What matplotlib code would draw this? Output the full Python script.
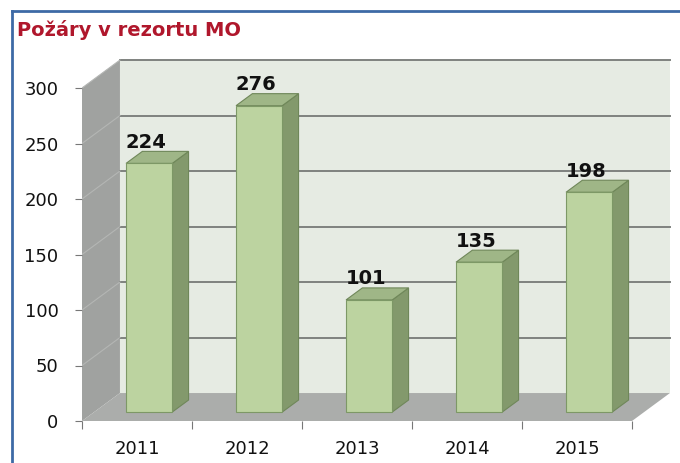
import numpy as np
import matplotlib
matplotlib.use("Agg")
import matplotlib.pyplot as plt
from matplotlib.patches import Polygon
from matplotlib.lines import Line2D

years = ["2011", "2012", "2013", "2014", "2015"]
fires = [224, 276, 101, 135, 198]
yticks = [0, 50, 100, 150, 200, 250, 300]
title = "Požáry v rezortu MO"

# fake 3d depth, in data units (category width = 1)
DX = 0.345
DY = 25.2
F1, F2 = 0.32, 0.75  # front and back of the bars, as fraction of the depth
BW = 0.42

W, H = 680, 463
fig = plt.figure(figsize=(W / 100, H / 100), dpi=100)
fig.patch.set_facecolor("white")

# frame
fig.add_artist(Line2D([12 / W, 1], [1 - 11 / H, 1 - 11 / H], color="#3d6aa6", lw=2))
fig.add_artist(Line2D([12 / W, 12 / W], [0, 1 - 11 / H], color="#3d6aa6", lw=2))
fig.text(17 / W, 1 - 30 / H, title, color="#b0172c", fontsize=14,
         fontweight="bold", va="center", ha="left")

ax = fig.add_axes([82 / W, (H - 421) / H, 594 / W, 372 / H])
ax.set_xlim(-0.5, -0.5 + 594 / 110)
ax.set_ylim(0, 372 / 1.11)
ax.set_facecolor("none")
for s in ax.spines.values():
    s.set_visible(False)

x = np.arange(len(years))
x0, x1 = -0.5, len(years) - 0.5
top = yticks[-1]

# walls and floor
ax.add_patch(Polygon([(x0, 0), (x0, top), (x0 + DX, top + DY), (x0 + DX, DY)],
                     facecolor="#a0a2a0", edgecolor="none", zorder=1))
ax.add_patch(Polygon([(x0 + DX, DY), (x0 + DX, top + DY), (x1 + DX, top + DY), (x1 + DX, DY)],
                     facecolor="#e6ebe3", edgecolor="none", zorder=1))
ax.add_patch(Polygon([(x0, 0), (x1, 0), (x1 + DX, DY), (x0 + DX, DY)],
                     facecolor="#abadab", edgecolor="none", zorder=2))
for t in yticks[1:]:
    ax.plot([x0 + DX, x1 + DX], [t + DY, t + DY], color="#7f827f", lw=1.4, zorder=2)
    ax.plot([x0, x0 + DX], [t, t + DY], color="#b4b6b4", lw=0.8, zorder=2)

# bars
xf = x + F1 * DX
ax.bar(xf, fires, width=BW, bottom=F1 * DY, color="#bcd3a0", edgecolor="#7d9866",
       linewidth=0.8, zorder=4)
ddx = (F2 - F1) * DX
ddy = (F2 - F1) * DY
for xi, v in zip(xf, fires):
    l, r = xi - BW / 2, xi + BW / 2
    b, t = F1 * DY, F1 * DY + v
    ax.add_patch(Polygon([(r, b), (r + ddx, b + ddy), (r + ddx, t + ddy), (r, t)],
                         facecolor="#83996c", edgecolor="#6f8759", lw=0.8, zorder=3))
    ax.add_patch(Polygon([(l, t), (r, t), (r + ddx, t + ddy), (l + ddx, t + ddy)],
                         facecolor="#9fb687", edgecolor="#6f8759", lw=0.8, zorder=3))
    ax.text(xi - 0.03, t + 19, str(v), ha="center", va="center", fontsize=14,
            fontweight="bold", color="#111111", zorder=5)

ax.set_yticks(yticks)
ax.set_yticklabels([str(t) for t in yticks], fontsize=13, color="#111111")
ax.tick_params(axis="y", length=5, color="#777777", pad=12)
ax.set_xticks(np.arange(len(years) + 1) - 0.5)
ax.set_xticklabels([])
ax.set_xticks(x, minor=True)
ax.set_xticklabels(years, minor=True, fontsize=13, color="#111111")
ax.tick_params(axis="x", which="major", length=6, color="#777777")
ax.tick_params(axis="x", which="minor", length=0, pad=14)

fig.savefig("out.png", dpi=100)
